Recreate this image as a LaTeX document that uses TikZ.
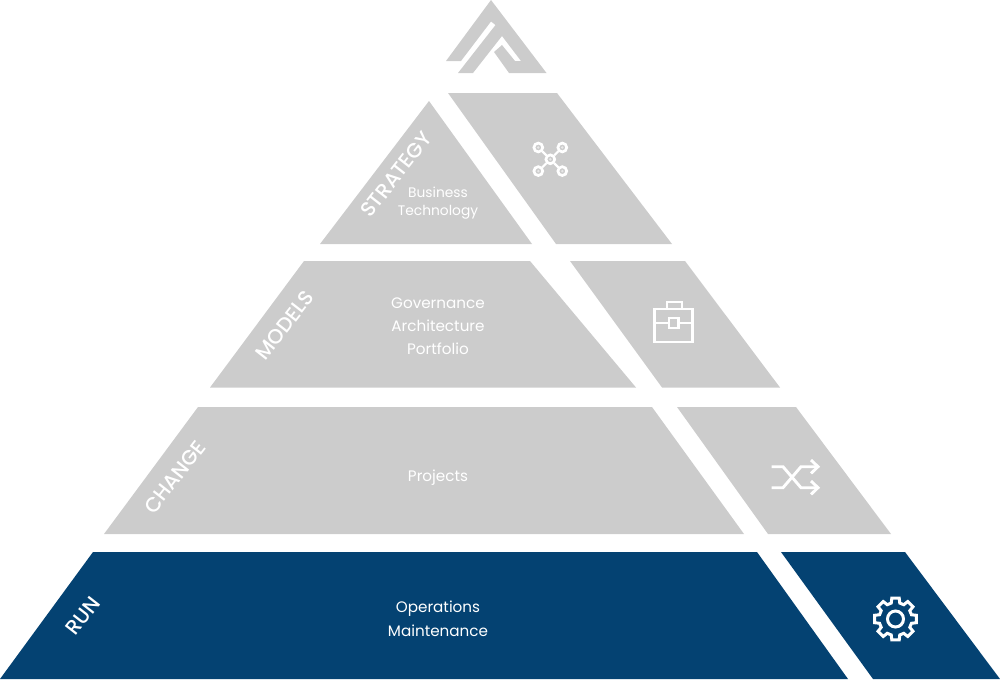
\documentclass[tikz,border=0pt]{standalone}
\usepackage{fontspec}
\setmainfont{Poppins}
\newfontfamily\namefont{Poppins Medium}
\definecolor{slab}{HTML}{CCCCCC}
\definecolor{runblue}{HTML}{044272}
\tikzset{
  x=1pt,y=-1pt,
  slabgrey/.style={fill=slab,draw=none},
  slabblue/.style={fill=runblue,draw=none},
  tier/.style={text=white,font=\fontsize{15.2}{15.2}\selectfont,align=center,inner sep=0pt},
  tiersmall/.style={text=white,font=\fontsize{13.8}{13.8}\selectfont,align=center,inner sep=0pt},
  tiername/.style={text=white,font=\namefont\fontsize{20.5}{20.5}\selectfont,rotate=52,inner sep=0pt},
  icon/.style={draw=white,line width=2.9pt,fill=none,line join=miter},
}
\begin{document}
\begin{tikzpicture}
\useasboundingbox (0,0) rectangle (1000,685);
% crown
\fill[slab] (491,0) -- (546.5,73) -- (509,73) -- (494,52) -- (502,45) -- (515,61) -- (521,61)
  -- (502,36) -- (473,73) -- (458,73) -- (495.5,25) -- (491,21.5) -- (461,61) -- (446,61) -- cycle;
% grey tiers
\fill[slabgrey] (429,101) -- (532,244) -- (320,244) -- cycle;
\fill[slabgrey] (448,93) -- (557,93) -- (672,244) -- (556,244) -- cycle;
\fill[slabgrey] (304,261) -- (530,261) -- (636,387.5) -- (210,387.5) -- cycle;
\fill[slabgrey] (570,261) -- (685,261) -- (780,387.5) -- (662,387.5) -- cycle;
\fill[slabgrey] (198,407) -- (652,407) -- (744,534) -- (104,534) -- cycle;
\fill[slabgrey] (677,407) -- (796,407) -- (891,534) -- (768,534) -- cycle;
% run tier
\fill[slabblue] (93,552) -- (757,552) -- (848,679) -- (0,679) -- cycle;
\fill[slabblue] (781,552) -- (905,552) -- (1000,679) -- (873,679) -- cycle;
% tier contents
\node[tiersmall] (t1) at (438,203) {Business\\[4.5pt]Technology};
\node[tier] (t2) at (438,326.5) {Governance\\[8pt]Architecture\\[8pt]Portfolio};
\node[tier] (t3) at (438,478) {Projects};
\node[tier] (t4) at (438,619) {Operations\\[8pt]Maintenance};
\node[tiername] (n1) at (396,174.5) {STRATEGY};
\node[tiername] (n2) at (284.5,325.5) {MODELS};
\node[tiername] (n3) at (175,477) {CHANGE};
\node[tiername] (n4) at (83,616) {RUN};
% drone
\begin{scope}[shift={(550.3,159.3)}]
  \foreach \sx/\sy in {-1/-1,1/-1,-1/1,1/1}{
    \draw[icon,line width=2.2pt] (\sx*4,\sy*4) -- (\sx*8,\sy*8);
    \draw[icon,line width=2.7pt] (\sx*12,\sy*11.8) circle[radius=4.4];
    \fill[white,opacity=.55] (\sx*12,\sy*11.8) circle[radius=1.4];
  }
  \draw[icon,line width=2.7pt] (0,0) circle[radius=4.4];
  \fill[white,opacity=.55] (0,0) circle[radius=1.4];
\end{scope}
% briefcase
\draw[icon] (654.5,309) rectangle (692.5,342);
\draw[icon] (667,309) -- (667,302) -- (682,302) -- (682,309);
\draw[icon] (669,318) rectangle (678.5,328);
\draw[icon] (654.5,323) -- (669,323) (678.5,323) -- (692.5,323);
% crossing arrows
\draw[icon] (771.5,466.7) -- (783,466.7) -- (801,487.7) -- (817,487.7);
\draw[icon] (771.5,487.7) -- (783,487.7) -- (801,466.7) -- (817,466.7);
\draw[icon] (811,460) -- (818,466.7) -- (811,473.4);
\draw[icon] (811,481) -- (818,487.7) -- (811,494.4);
% gear
\begin{scope}[shift={(895.5,619)}]
  \draw[icon,line width=3pt] (-16:16.5) \foreach \a in {0,45,...,315}{
    -- (\a-15:16.5) -- (\a-10:21.3) -- (\a+10:21.3) -- (\a+15:16.5)
  } -- cycle;
  \draw[icon,line width=3pt] (0,0) circle[radius=8];
\end{scope}
\end{tikzpicture}
\end{document}
